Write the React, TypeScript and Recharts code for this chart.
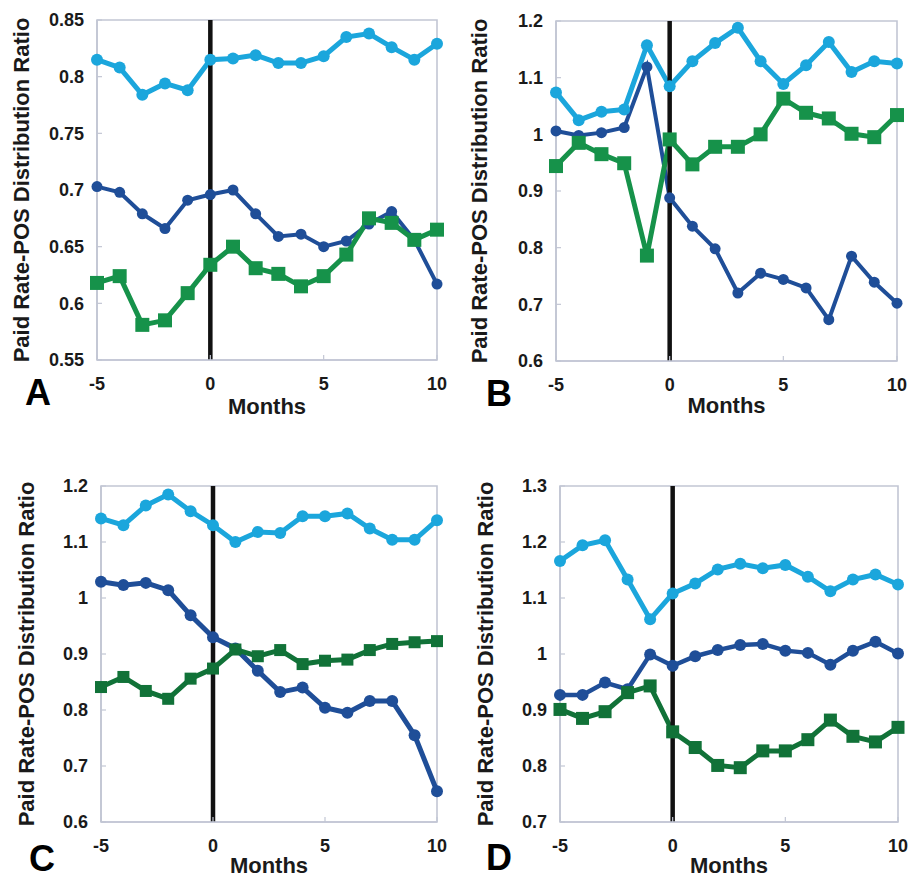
import { LineChart, Line, XAxis, YAxis, ReferenceLine, ReferenceArea } from 'recharts'

const months = [-5, -4, -3, -2, -1, 0, 1, 2, 3, 4, 5, 6, 7, 8, 9, 10]
const monthTicks = [-5, 0, 5, 10]

// panel A
const aLight = [0.815, 0.808, 0.784, 0.794, 0.788, 0.815, 0.816, 0.819, 0.812, 0.812, 0.818, 0.835, 0.838, 0.826, 0.815, 0.829]
const aDark = [0.703, 0.698, 0.679, 0.666, 0.691, 0.696, 0.7, 0.679, 0.659, 0.661, 0.65, 0.655, 0.67, 0.681, 0.656, 0.617]
const aGreen = [0.618, 0.624, 0.581, 0.585, 0.609, 0.634, 0.65, 0.631, 0.626, 0.615, 0.624, 0.643, 0.675, 0.671, 0.656, 0.665]
const aTicks = [0.55, 0.6, 0.65, 0.7, 0.75, 0.8, 0.85]

// panel B
const bLight = [1.074, 1.025, 1.04, 1.044, 1.157, 1.085, 1.129, 1.161, 1.188, 1.129, 1.089, 1.122, 1.163, 1.11, 1.129, 1.125]
const bDark = [1.006, 0.998, 1.003, 1.012, 1.119, 0.888, 0.838, 0.798, 0.72, 0.755, 0.744, 0.729, 0.673, 0.785, 0.739, 0.702]
const bGreen = [0.944, 0.985, 0.965, 0.949, 0.786, 0.991, 0.947, 0.978, 0.978, 1.0, 1.063, 1.038, 1.028, 1.001, 0.995, 1.034]
const bTicks = [0.6, 0.7, 0.8, 0.9, 1, 1.1, 1.2]

// panel C
const cLight = [1.142, 1.13, 1.165, 1.185, 1.155, 1.13, 1.1, 1.118, 1.116, 1.146, 1.146, 1.151, 1.124, 1.104, 1.104, 1.139]
const cDark = [1.029, 1.023, 1.027, 1.014, 0.969, 0.93, 0.91, 0.87, 0.832, 0.84, 0.804, 0.795, 0.816, 0.816, 0.755, 0.655]
const cGreen = [0.841, 0.859, 0.834, 0.82, 0.856, 0.874, 0.908, 0.896, 0.907, 0.882, 0.888, 0.89, 0.907, 0.918, 0.921, 0.923]
const cTicks = [0.6, 0.7, 0.8, 0.9, 1, 1.1, 1.2]

// panel D
const dLight = [1.166, 1.194, 1.203, 1.133, 1.062, 1.108, 1.126, 1.151, 1.161, 1.153, 1.159, 1.138, 1.112, 1.133, 1.142, 1.124]
const dDark = [0.927, 0.927, 0.949, 0.937, 0.999, 0.979, 0.996, 1.007, 1.016, 1.018, 1.006, 1.002, 0.981, 1.006, 1.022, 1.001]
const dGreen = [0.901, 0.885, 0.897, 0.931, 0.943, 0.861, 0.833, 0.801, 0.797, 0.827, 0.827, 0.847, 0.882, 0.853, 0.843, 0.869]
const dTicks = [0.7, 0.8, 0.9, 1, 1.1, 1.2, 1.3]

const LIGHT = '#1ba6dc'
const DARK = '#1f4e98'
const FRAME = '#c2c6d4'
const FONT = '"Liberation Sans", Arial, sans-serif'

type Rect = { left: number; top: number; right: number; bottom: number }

interface PanelProps {
  letter: string
  x0: number
  y0: number
  plot: Rect
  light: number[]
  dark: number[]
  green: number[]
  ticks: number[]
  greenColor: string
  lightWidth: number
  darkWidth: number
  greenWidth: number
  lightR: number
  darkR: number
  square: number
  labelX: number
  monthsY: number
  letterPos: [number, number]
}

function Panel(p: PanelProps) {
  const w = 455
  const h = 439
  const xAxisH = 40
  const rows = months.map((m, i) => ({ month: m, light: p.light[i], dark: p.dark[i], green: p.green[i] }))
  const domain: [number, number] = [p.ticks[0], p.ticks[p.ticks.length - 1]]
  const midX = (p.plot.left + p.plot.right) / 2
  const midY = (p.plot.top + p.plot.bottom) / 2

  const squareDot = (props: any) => {
    const { cx, cy, index } = props
    const s = p.square
    return <rect key={`sq-${index}`} x={cx - s / 2} y={cy - s / 2} width={s} height={s} fill={p.greenColor} />
  }

  return (
    <>
      <div style={{ position: 'absolute', left: p.x0, top: p.y0 }}>
        <LineChart
          width={w}
          height={h}
          data={rows}
          margin={{
            top: p.plot.top - p.y0,
            left: 0,
            right: p.x0 + w - p.plot.right,
            bottom: p.y0 + h - p.plot.bottom - xAxisH,
          }}
        >
          {/* plot frame */}
          <ReferenceArea
            x1={-5}
            x2={10}
            y1={domain[0]}
            y2={domain[1]}
            fill="#ffffff"
            fillOpacity={0}
            stroke={FRAME}
            strokeWidth={1.6}
            ifOverflow="visible"
          />
          <XAxis
            dataKey="month"
            type="number"
            domain={[-5, 10]}
            ticks={monthTicks}
            height={xAxisH}
            axisLine={{ stroke: FRAME, strokeWidth: 1.6 }}
            tickLine={{ stroke: FRAME, strokeWidth: 1.2 }}
            tickSize={-5}
            tickMargin={22}
            tick={{ fill: '#1a1a1a', fontSize: 18, fontWeight: 700, fontFamily: FONT }}
          />
          <XAxis
            xAxisId="top"
            orientation="top"
            type="number"
            domain={[-5, 10]}
            ticks={monthTicks}
            height={0}
            axisLine={{ stroke: FRAME, strokeWidth: 1.6 }}
            tickLine={{ stroke: FRAME, strokeWidth: 1.2 }}
            tickSize={-5}
            tick={false}
          />
          <YAxis
            type="number"
            domain={domain}
            ticks={p.ticks}
            width={p.plot.left - p.x0}
            axisLine={{ stroke: FRAME, strokeWidth: 1.6 }}
            tickLine={{ stroke: FRAME, strokeWidth: 1.2 }}
            tickSize={-5}
            tickMargin={18}
            tickFormatter={(v) => String(v)}
            tick={{ fill: '#1a1a1a', fontSize: 18, fontWeight: 700, fontFamily: FONT }}
          />
          <YAxis
            yAxisId="right"
            orientation="right"
            type="number"
            domain={domain}
            ticks={p.ticks}
            width={0}
            axisLine={{ stroke: FRAME, strokeWidth: 1.6 }}
            tickLine={{ stroke: FRAME, strokeWidth: 1.2 }}
            tickSize={-5}
            tick={false}
          />
          <Line
            dataKey="light"
            stroke={LIGHT}
            strokeWidth={p.lightWidth}
            dot={{ r: p.lightR, fill: LIGHT, stroke: 'none' }}
            isAnimationActive={false}
          />
          <Line
            dataKey="dark"
            stroke={DARK}
            strokeWidth={p.darkWidth}
            dot={{ r: p.darkR, fill: DARK, stroke: 'none' }}
            isAnimationActive={false}
          />
          <Line
            dataKey="green"
            stroke={p.greenColor}
            strokeWidth={p.greenWidth}
            dot={squareDot}
            isAnimationActive={false}
          />
          <ReferenceLine x={0} stroke="#111111" strokeWidth={4.5} />
        </LineChart>
      </div>
      <div
        style={{
          position: 'absolute',
          left: p.labelX,
          top: midY,
          transform: 'translate(-50%, -50%) rotate(-90deg)',
          whiteSpace: 'nowrap',
          fontFamily: FONT,
          fontWeight: 700,
          fontSize: 22,
          lineHeight: 1,
          color: '#1a1a1a',
        }}
      >
        Paid Rate-POS Distribution Ratio
      </div>
      <div
        style={{
          position: 'absolute',
          left: midX,
          top: p.monthsY,
          transform: 'translate(-50%, -50%)',
          fontFamily: FONT,
          fontWeight: 700,
          fontSize: 22,
          lineHeight: 1,
          color: '#1a1a1a',
        }}
      >
        Months
      </div>
      <div
        style={{
          position: 'absolute',
          left: p.letterPos[0],
          top: p.letterPos[1],
          transform: 'translate(-50%, -50%)',
          fontFamily: FONT,
          fontWeight: 700,
          fontSize: 36,
          lineHeight: 1,
          color: '#000',
        }}
      >
        {p.letter}
      </div>
    </>
  )
}

export default function App() {
  return (
    <div style={{ position: 'relative', width: 910, height: 878, background: '#fff', overflow: 'hidden' }}>
      <style>{'body { margin: 0; }'}</style>
      <Panel
        letter="A"
        x0={0}
        y0={0}
        plot={{ left: 97, top: 20, right: 437, bottom: 360 }}
        light={aLight}
        dark={aDark}
        green={aGreen}
        ticks={aTicks}
        greenColor="#16924a"
        lightWidth={5}
        darkWidth={4}
        greenWidth={5}
        lightR={6}
        darkR={5.5}
        square={14}
        labelX={22}
        monthsY={407}
        letterPos={[38, 393]}
      />
      <Panel
        letter="B"
        x0={455}
        y0={0}
        plot={{ left: 556, top: 21, right: 897, bottom: 361 }}
        light={bLight}
        dark={bDark}
        green={bGreen}
        ticks={bTicks}
        greenColor="#16924a"
        lightWidth={5}
        darkWidth={4}
        greenWidth={5}
        lightR={6}
        darkR={5.5}
        square={14}
        labelX={480}
        monthsY={406}
        letterPos={[499, 394]}
      />
      <Panel
        letter="C"
        x0={0}
        y0={439}
        plot={{ left: 101, top: 486, right: 437, bottom: 822 }}
        light={cLight}
        dark={cDark}
        green={cGreen}
        ticks={cTicks}
        greenColor="#117238"
        lightWidth={5}
        darkWidth={5}
        greenWidth={5}
        lightR={6}
        darkR={6}
        square={12}
        labelX={27}
        monthsY={866}
        letterPos={[42, 859]}
      />
      <Panel
        letter="D"
        x0={455}
        y0={439}
        plot={{ left: 560, top: 486, right: 898, bottom: 822 }}
        light={dLight}
        dark={dDark}
        green={dGreen}
        ticks={dTicks}
        greenColor="#117238"
        lightWidth={5}
        darkWidth={4.5}
        greenWidth={5}
        lightR={6}
        darkR={6}
        square={13}
        labelX={486}
        monthsY={866}
        letterPos={[499, 858]}
      />
    </div>
  )
}
